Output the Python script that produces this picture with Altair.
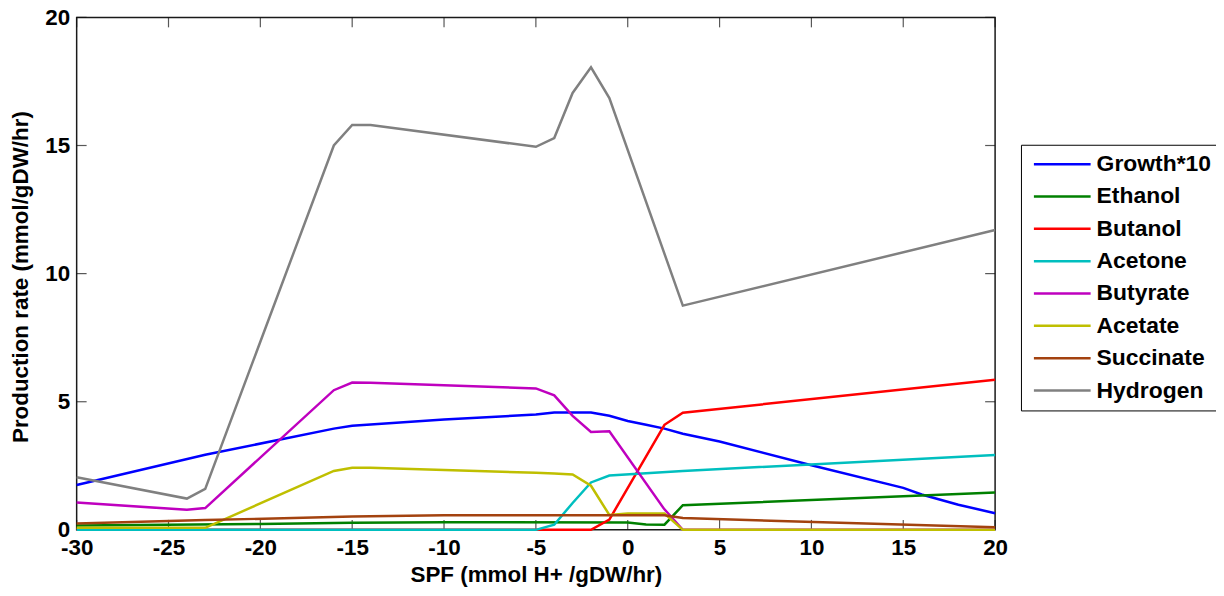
import altair as alt
import pandas as pd

series = ["Growth*10", "Ethanol", "Butanol", "Acetone", "Butyrate", "Acetate", "Succinate", "Hydrogen"]
colors = ["#0000FF", "#008000", "#FF0000", "#00BFBF", "#BF00BF", "#BFBF00", "#A3420F", "#808080"]

growth_x = [-30, -23, -16, -15, -10, -5, -4, -2, -1, 0, 1, 2, 3, 5, 10, 15, 16, 18, 20]
growth_y = [1.75, 2.93, 3.95, 4.06, 4.31, 4.5, 4.58, 4.58, 4.45, 4.25, 4.1, 3.95, 3.75, 3.45, 2.52, 1.64, 1.38, 0.98, 0.65]

ethanol_x = [-30, -20, -15, -10, 0, 1, 2, 3, 20]
ethanol_y = [0.17, 0.23, 0.28, 0.3, 0.29, 0.21, 0.2, 0.96, 1.46]

butanol_x = [-30, -2, -1, 2, 3, 20]
butanol_y = [0, 0, 0.4, 4.1, 4.57, 5.86]

acetone_x = [-30, -5, -4, -3, -2, -1, 3, 20]
acetone_y = [0, 0, 0.2, 1.05, 1.85, 2.12, 2.3, 2.92]

butyrate_x = [-30, -24, -23, -16, -15, -14, -5, -4, -3, -2, -1, 2, 3, 20]
butyrate_y = [1.07, 0.78, 0.85, 5.45, 5.75, 5.74, 5.52, 5.25, 4.45, 3.82, 3.85, 0.8, 0, 0]

acetate_x = [-30, -23, -16, -15, -14, -5, -4, -3, -2, -1, 0, 2, 3, 20]
acetate_y = [0.08, 0.08, 2.3, 2.42, 2.42, 2.23, 2.2, 2.16, 1.72, 0.58, 0.64, 0.64, 0, 0]

succinate_x = [-30, -23, -15, -10, 2, 3, 20]
succinate_y = [0.25, 0.38, 0.52, 0.57, 0.57, 0.46, 0.1]

hydrogen_x = [-30, -24, -23, -16, -15, -14, -5, -4, -3, -2, -1, 3, 20]
hydrogen_y = [2.05, 1.22, 1.6, 15.0, 15.8, 15.8, 14.95, 15.29, 17.05, 18.05, 16.85, 8.75, 11.7]

x_ticks = [-30, -25, -20, -15, -10, -5, 0, 5, 10, 15, 20]
y_ticks = [0, 5, 10, 15, 20]

all_x = [growth_x, ethanol_x, butanol_x, acetone_x, butyrate_x, acetate_x, succinate_x, hydrogen_x]
all_y = [growth_y, ethanol_y, butanol_y, acetone_y, butyrate_y, acetate_y, succinate_y, hydrogen_y]

rows = []
for name, xs, ys in zip(series, all_x, all_y):
    for xv, yv in zip(xs, ys):
        rows.append({"spf": xv, "rate": yv, "series": name})
df = pd.DataFrame(rows)

W, H = 923, 515
FONT = "Liberation Sans"
FS = 22.5

xscale = alt.Scale(domain=[-30, 20], nice=False, zero=False)
yscale = alt.Scale(domain=[0, 20], nice=False)

lines = alt.Chart(df).mark_line(strokeWidth=2.5).encode(
    x=alt.X("spf:Q", scale=xscale, axis=alt.Axis(
        values=x_ticks, labelExpr="'' + datum.value", ticks=False, domain=False, grid=False,
        labelFlush=False, labelFontSize=FS, labelFontWeight="bold", labelFont=FONT,
        labelColor="black", labelPadding=7, title="SPF (mmol H+ /gDW/hr)", titleFontSize=FS,
        titleFontWeight="bold", titleFont=FONT, titleColor="black", titleX=W / 2, titleY=34,
        titleBaseline="top")),
    y=alt.Y("rate:Q", scale=yscale, axis=alt.Axis(
        values=y_ticks, labelExpr="'' + datum.value", ticks=False, domain=False, grid=False,
        labelFlush=False, labelFontSize=FS, labelFontWeight="bold", labelFont=FONT,
        labelColor="black", labelPadding=7, title="Production rate (mmol/gDW/hr)",
        titleFontSize=FS, titleFontWeight="bold", titleFont=FONT, titleColor="black",
        titleX=-44, titleY=H / 2 + 3, titleBaseline="bottom", titleAngle=270)),
    color=alt.Color("series:N", sort=series, scale=alt.Scale(domain=series, range=colors),
                    legend=alt.Legend(
                        title=None, orient="none", legendX=949, legendY=128,
                        symbolType="M-3,0H3", symbolSize=361, symbolStrokeWidth=2.5,
                        symbolOffset=22,
                        labelFontSize=23, labelFontWeight="bold", labelFont=FONT, labelColor="black",
                        labelOffset=23, padding=8, rowPadding=8.5, fillColor="white",
                        strokeColor="black", cornerRadius=0)),
    detail="series:N",
)

xt = pd.DataFrame({"spf": x_ticks})
yt = pd.DataFrame({"rate": y_ticks})
tick_color = "#111111"

bottom_ticks = alt.Chart(xt).mark_tick(orient="vertical", size=10, thickness=1.2, color=tick_color).encode(
    x=alt.X("spf:Q", scale=xscale), y=alt.value(H - 5))
top_ticks = alt.Chart(xt).mark_tick(orient="vertical", size=10, thickness=1.2, color=tick_color).encode(
    x=alt.X("spf:Q", scale=xscale), y=alt.value(5))
left_ticks = alt.Chart(yt).mark_tick(orient="horizontal", size=10, thickness=1.2, color=tick_color).encode(
    y=alt.Y("rate:Q", scale=yscale), x=alt.value(5))
right_ticks = alt.Chart(yt).mark_tick(orient="horizontal", size=10, thickness=1.2, color=tick_color).encode(
    y=alt.Y("rate:Q", scale=yscale), x=alt.value(W - 5))

chart = alt.layer(bottom_ticks, top_ticks, left_ticks, right_ticks, lines).properties(
    width=W, height=H,
    autosize=alt.AutoSizeParams(type="none"),
    padding={"left": 69, "top": 8, "right": 222, "bottom": 56},
    background="white",
).configure_view(stroke="#1a1a1a", strokeWidth=1.5)

chart.save("out.html", embed_options={"renderer": "svg", "actions": False})
